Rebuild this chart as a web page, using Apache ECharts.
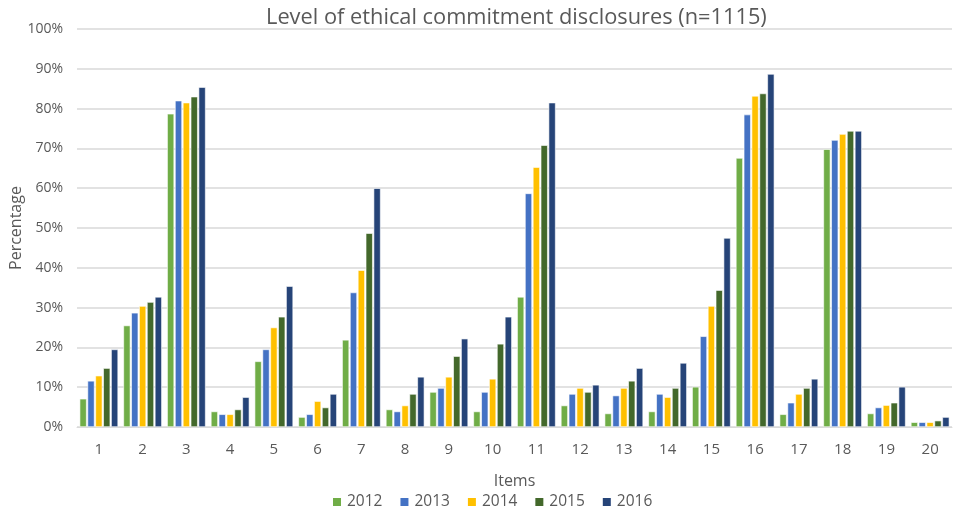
<!DOCTYPE html>
<html><head><meta charset="utf-8">
<script src="https://cdn.jsdelivr.net/npm/echarts@6/dist/echarts.min.js"></script>
<style>html,body{margin:0;padding:0;background:#fff}#c{width:955px;height:512px}</style>
</head><body><div id="c"></div>
<script>
const categories = ['1','2','3','4','5','6','7','8','9','10','11','12','13','14','15','16','17','18','19','20'];
const yTicks = [0,10,20,30,40,50,60,70,80,90,100];
const s2012 = [7.1,25.5,78.7,3.9,16.5,2.5,21.9,4.4,8.8,3.9,32.7,5.4,3.4,3.9,10.1,67.6,3.2,69.8,3.4,1.2];
const s2013 = [11.6,28.7,82.0,3.2,19.5,3.2,33.8,3.9,9.8,8.8,58.7,8.3,7.9,8.3,22.8,78.5,6.1,72.1,4.9,1.2];
const s2014 = [12.9,30.4,81.5,3.2,25.0,6.5,39.4,5.4,12.6,12.1,65.3,9.8,9.8,7.5,30.4,83.2,8.3,73.6,5.5,1.2];
const s2015 = [14.8,31.4,83.0,4.4,27.7,4.9,48.7,8.3,17.8,20.9,70.8,8.8,11.6,9.8,34.4,83.8,9.8,74.4,6.1,1.6];
const s2016 = [19.5,32.7,85.4,7.5,35.4,8.3,60.0,12.6,22.2,27.7,81.5,10.6,14.8,16.1,47.5,88.7,12.1,74.4,10.1,2.5];
const seriesNames = ['2012','2013','2014','2015','2016'];
const seriesData = [s2012,s2013,s2014,s2015,s2016];
const colors = ['#70AD47','#4472C4','#FFC000','#43682B','#264478'];
const font = 'Open Sans, Noto Sans, sans-serif';
const chart = echarts.init(document.getElementById('c'));
chart.setOption({
  animation:false,
  color: colors,
  title:{text:'Level of ethical commitment disclosures (n=1115)',left:261,top:2,
    textStyle:{fontFamily:font,fontSize:21.8,fontWeight:'normal',color:'#595959'}},
  legend:{data:seriesNames,top:489,left:326,itemWidth:10,itemHeight:10,itemGap:16,icon:'rect',
    textStyle:{fontFamily:font,fontSize:15.5,color:'#595959'}},
  grid:{left:77,right:3,top:29,bottom:85,outerBoundsMode:'none',containLabel:false},
  xAxis:{type:'category',data:categories,name:'Items',nameLocation:'middle',nameGap:46,nameMoveOverlap:false,
    nameTextStyle:{fontFamily:font,fontSize:16,color:'#595959'},
    axisLine:{lineStyle:{color:'#d9d9d9',width:1}},axisTick:{show:false},
    axisLabel:{fontFamily:font,fontSize:15,color:'#595959',margin:15}},
  yAxis:{type:'value',min:0,max:100,interval:10,name:'Percentage',nameLocation:'middle',nameGap:53,nameMoveOverlap:false,
    nameTextStyle:{fontFamily:font,fontSize:16,color:'#595959'},
    axisLabel:{fontFamily:font,fontSize:14,color:'#595959',formatter:v=>v+'%',margin:14},
    splitLine:{lineStyle:{color:'#d9d9d9',width:1.5}},axisLine:{show:false},axisTick:{show:false}},
  series: seriesNames.map((n,i)=>({name:n,type:'bar',data:seriesData[i],
    barGap:'12%',barCategoryGap:'12%',
    itemStyle:{borderColor:'#ffffff',borderWidth:0.6}}))
});
</script></body></html>
